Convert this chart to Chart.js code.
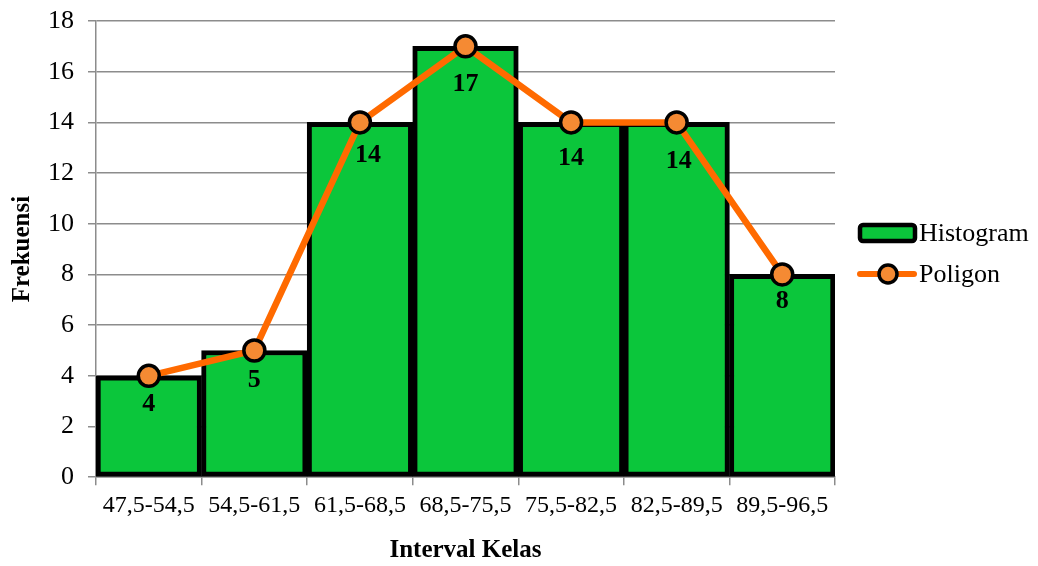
<!DOCTYPE html>
<html>
<head>
<meta charset="utf-8">
<script src="https://cdn.jsdelivr.net/npm/chart.js@4.4.1/dist/chart.umd.min.js"></script>
<style>
  html, body { margin: 0; padding: 0; background: #ffffff; }
  #wrap { width: 1038px; height: 566px; }
</style>
</head>
<body>
<div id="wrap"><canvas id="chart" width="1038" height="566"></canvas></div>
<script>
// Class intervals and their frequencies
const categories = ['47,5-54,5', '54,5-61,5', '61,5-68,5', '68,5-75,5', '75,5-82,5', '82,5-89,5', '89,5-96,5'];
const frekuensi = [4, 5, 14, 17, 14, 14, 8];
const yTicks = [0, 2, 4, 6, 8, 10, 12, 14, 16, 18];

const FONT = '"Liberation Serif", "Times New Roman", serif';
const GREEN = '#0bc63b';
const ORANGE = '#ff6a00';
const POINT_FILL = '#f58a33';

// Value labels under each polygon point
const valueLabels = {
  id: 'valueLabels',
  afterDatasetsDraw(chart, args, opts) {
    const meta = chart.getDatasetMeta(1);
    const data = chart.data.datasets[1].data;
    const ctx = chart.ctx;
    ctx.save();
    ctx.font = 'bold 26px ' + FONT;
    ctx.fillStyle = '#000';
    ctx.textAlign = 'center';
    ctx.textBaseline = 'middle';
    meta.data.forEach((pt, i) => {
      ctx.fillText(String(data[i]), pt.x + opts.dx[i], pt.y + opts.dy[i]);
    });
    ctx.restore();
  }
};

// Legend drawn to the right of the plot
const sideLegend = {
  id: 'sideLegend',
  afterDraw(chart) {
    const ctx = chart.ctx;
    ctx.save();
    // Histogram swatch
    const bx = 860, by = 225, bw = 55, bh = 16;
    ctx.lineWidth = 4.5;
    ctx.strokeStyle = '#000';
    ctx.fillStyle = GREEN;
    ctx.beginPath();
    ctx.roundRect(bx, by, bw, bh, 3);
    ctx.fill();
    ctx.stroke();
    // Poligon swatch
    ctx.strokeStyle = ORANGE;
    ctx.lineWidth = 6;
    ctx.lineCap = 'round';
    ctx.beginPath();
    ctx.moveTo(860, 274);
    ctx.lineTo(914, 274);
    ctx.stroke();
    ctx.beginPath();
    ctx.arc(888, 274, 9, 0, Math.PI * 2);
    ctx.fillStyle = POINT_FILL;
    ctx.fill();
    ctx.lineWidth = 3.5;
    ctx.strokeStyle = '#000';
    ctx.stroke();
    // Texts
    ctx.fillStyle = '#000';
    ctx.font = '26px ' + FONT;
    ctx.textAlign = 'left';
    ctx.textBaseline = 'middle';
    ctx.fillText('Histogram', 919, 234);
    ctx.fillText('Poligon', 919, 275);
    ctx.restore();
  }
};

new Chart(document.getElementById('chart'), {
  type: 'bar',
  data: {
    labels: categories,
    datasets: [
      {
        type: 'bar',
        label: 'Histogram',
        data: frekuensi,
        backgroundColor: GREEN,
        borderColor: '#000',
        borderWidth: 5,
        borderSkipped: false,
        barPercentage: 1.0,
        categoryPercentage: 1.0,
        order: 2
      },
      {
        type: 'line',
        label: 'Poligon',
        data: frekuensi,
        borderColor: ORANGE,
        borderWidth: 6.5,
        pointRadius: 10.5,
        pointBorderWidth: 3.5,
        pointBackgroundColor: POINT_FILL,
        pointBorderColor: '#000',
        tension: 0,
        clip: false,
        order: 1
      }
    ]
  },
  options: {
    responsive: false,
    animation: false,
    layout: { padding: { left: 8, right: 203, top: 0, bottom: 0 } },
    plugins: {
      legend: { display: false },
      tooltip: { enabled: false },
      valueLabels: {
        dx: [0, 0, 8, 0, 0, 2, 0],
        dy: [28, 30, 33, 38, 36, 39, 27]
      }
    },
    scales: {
      x: {
        offset: true,
        grid: {
          offset: true,
          drawOnChartArea: false,
          drawTicks: true,
          tickLength: 8,
          color: '#8c8c8c',
          lineWidth: 1.5
        },
        border: { color: '#8c8c8c', width: 1.5 },
        ticks: {
          color: '#000',
          font: { family: FONT, size: 24 },
          padding: 6,
          maxRotation: 0,
          autoSkip: false
        },
        title: {
          display: true,
          text: 'Interval Kelas',
          color: '#000',
          font: { family: FONT, size: 25, weight: 'bold' },
          padding: { top: 10, bottom: 0 }
        }
      },
      y: {
        min: 0,
        max: 18,
        afterBuildTicks(scale) {
          scale.ticks = yTicks.map(v => ({ value: v }));
        },
        afterFit(scale) {
          scale.width = 88;
          scale.paddingTop = 21;
        },
        grid: {
          color: '#8c8c8c',
          lineWidth: 1.5,
          tickLength: 8
        },
        border: { color: '#8c8c8c', width: 1.5 },
        ticks: {
          color: '#000',
          font: { family: FONT, size: 26 },
          padding: 14
        },
        title: {
          display: true,
          text: 'Frekuensi',
          color: '#000',
          font: { family: FONT, size: 25, weight: 'bold' },
          padding: { top: 0, bottom: 10 }
        }
      }
    }
  },
  plugins: [valueLabels, sideLegend]
});
</script>
</body>
</html>
